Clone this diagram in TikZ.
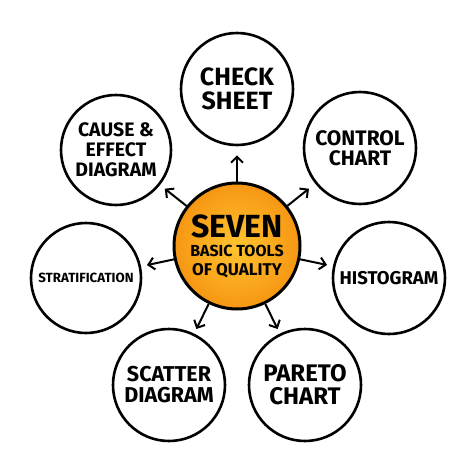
\documentclass[tikz,border=0pt]{standalone}
\usepackage{fontspec}
\setmainfont{Fira Sans}
\usetikzlibrary{arrows.meta}
\definecolor{orin}{RGB}{255,196,48}
\definecolor{orout}{RGB}{246,150,18}
\newcommand{\fs}[2]{\fontsize{#1}{#2}\selectfont}
\tikzset{
  tool/.style={circle, draw=black, line width=2.6pt, fill=white, minimum size=112pt, inner sep=0pt, align=center},
  hub/.style={circle, draw=black, line width=3pt, inner color=orin, outer color=orout, minimum size=126pt, inner sep=0pt, align=center},
  arr/.style={line width=2pt, -{Straight Barb[length=6pt,width=12pt,line width=2pt]}, shorten >=6pt}
}
\begin{document}
\begin{tikzpicture}[x=1pt,y=-1pt]
\useasboundingbox (0,0) rectangle (474,474);
\node[hub, font=\bfseries\fs{16}{19}] (c) at (237,246) {\fs{32}{27}SEVEN\\\fs{16}{20}BASIC TOOLS\\\fs{17}{20}OF QUALITY};
\node[tool, font=\bfseries\fs{25}{24}] (chk) at (237,89) {CHECK\\SHEET};
\node[tool, minimum size=110pt, font=\bfseries\fs{19.5}{20}] (cause) at (116,150) {CAUSE \&\\EFFECT\\DIAGRAM};
\node[tool, font=\bfseries\fs{21}{20}] (ctrl) at (360,148) {CONTROL\\CHART};
\node[tool, minimum size=110pt, font=\bfseries\fs{13.3}{14}] (strat) at (86,278) {STRATIFICATION};
\node[tool, font=\bfseries\fs{18.5}{20}] (hist) at (389,278) {HISTOGRAM};
\node[tool, font=\bfseries\fs{21.5}{21}] (scat) at (169,385) {SCATTER\\DIAGRAM};
\node[tool, font=\bfseries\fs{24}{23}] (par) at (305,385) {PARETO\\CHART};
\draw[arr, shorten >=9pt] (c) -- (chk);
\draw[arr] (c) -- (cause);
\draw[arr, shorten >=8pt] (c) -- (ctrl);
\draw[arr] (c) -- (strat);
\draw[arr] (c) -- (hist);
\draw[arr, shorten >=5pt] (c) -- (scat);
\draw[arr, shorten >=5pt] (c) -- (par);
\end{tikzpicture}
\end{document}
